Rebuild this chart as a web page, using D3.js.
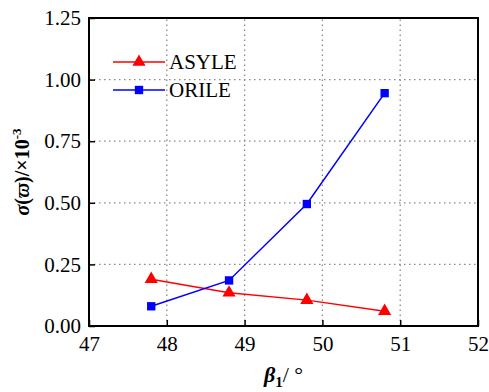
<!DOCTYPE html>
<html><head><meta charset="utf-8">
<script src="https://cdn.jsdelivr.net/npm/d3@7"></script>
<style>body{margin:0;background:#fff}svg{display:block}text{font-family:"Liberation Serif","Times New Roman","DejaVu Serif",serif}</style>
</head><body>
<script>
const xValues = [47.8, 48.8, 49.8, 50.8];
const asyle = [0.19, 0.135, 0.105, 0.06];
const orile = [0.08, 0.185, 0.495, 0.945];
const xTicks = [47, 48, 49, 50, 51, 52];
const yTicks = [0, 0.25, 0.5, 0.75, 1.0, 1.25];
const seriesNames = ["ASYLE", "ORILE"];
const seriesColors = ["#ff0000", "#0000ff"];

const W = 489, H = 392;
const m = {l: 89, t: 18, r: 11, b: 66};
const svg = d3.select("body").append("svg").attr("width", W).attr("height", H);
const x = d3.scaleLinear().domain([47, 52]).range([m.l, W - m.r]);
const y = d3.scaleLinear().domain([0, 1.25]).range([H - m.b, m.t]);

// grid
const g = svg.append("g");
g.selectAll(".vg").data(xTicks.slice(1, -1)).join("line")
  .attr("x1", d => x(d)).attr("x2", d => x(d)).attr("y1", y(0)).attr("y2", y(1.25))
  .attr("stroke", "#888").attr("stroke-width", 1.3).attr("stroke-dasharray", "1.5,3.5");
g.selectAll(".hg").data(yTicks.slice(1, -1)).join("line")
  .attr("y1", d => y(d)).attr("y2", d => y(d)).attr("x1", x(47)).attr("x2", x(52))
  .attr("stroke", "#888").attr("stroke-width", 1.3).attr("stroke-dasharray", "1.5,3.5");

// axes
const xAxis = svg.append("g").attr("transform", `translate(0,${y(0)})`)
  .call(d3.axisBottom(x).tickValues(xTicks).tickFormat(d3.format("d")).tickSizeInner(-6).tickSizeOuter(0).tickPadding(10));
const yAxis = svg.append("g").attr("transform", `translate(${x(47)},0)`)
  .call(d3.axisLeft(y).tickValues(yTicks).tickFormat(d3.format(".2f")).tickSizeInner(-6).tickSizeOuter(0).tickPadding(8));
[xAxis, yAxis].forEach(a => {
  a.attr("font-family", null).attr("font-size", null);
  a.selectAll("text").attr("font-size", 21).attr("fill", "#000");
  a.selectAll("line").attr("stroke", "#000").attr("stroke-width", 1.5);
  a.select(".domain").remove();
});
xAxis.selectAll("text").attr("dy", "0.71em");
// frame
svg.append("rect").attr("x", x(47)).attr("y", y(1.25)).attr("width", x(52) - x(47)).attr("height", y(0) - y(1.25))
  .attr("fill", "none").attr("stroke", "#000").attr("stroke-width", 2);

// series
const data = [asyle, orile];
const line = d3.line().x((d, i) => x(xValues[i])).y(d => y(d));
const tri = d3.symbol().type(d3.symbolTriangle).size(75);
const sq = d3.symbol().type(d3.symbolSquare).size(70);
data.forEach((vals, k) => {
  svg.append("path").datum(vals).attr("d", line).attr("fill", "none")
    .attr("stroke", seriesColors[k]).attr("stroke-width", 1.5);
  svg.selectAll(".m" + k).data(vals).join("path")
    .attr("transform", (d, i) => `translate(${x(xValues[i])},${y(d)})`)
    .attr("d", k === 0 ? tri() : sq()).attr("fill", seriesColors[k]);
});

// legend
const leg = svg.append("g");
seriesNames.forEach((n, k) => {
  const ly = 62 + k * 28;
  leg.append("line").attr("x1", 113).attr("x2", 165).attr("y1", ly).attr("y2", ly)
    .attr("stroke", seriesColors[k]).attr("stroke-width", 1.5);
  leg.append("path").attr("transform", `translate(139,${ly})`).attr("d", k === 0 ? tri() : sq()).attr("fill", seriesColors[k]);
  leg.append("text").attr("x", 169).attr("y", ly + 7).text(n)
    .attr("font-size", 21).attr("fill", "#000");
});

// axis labels
const xl = svg.append("text").attr("x", (x(47) + x(52)) / 2).attr("y", 382).attr("text-anchor", "middle")
  .attr("font-size", 22).attr("fill", "#000");
xl.append("tspan").attr("font-weight", "bold").attr("font-style", "italic").text("β");
xl.append("tspan").attr("font-weight", "bold").attr("font-size", 15).attr("dy", 5).text("1");
xl.append("tspan").attr("dy", -5).text("/ °");

const yl = svg.append("text").attr("transform", `translate(29,${(y(0) + y(1.25)) / 2}) rotate(-90)`)
  .attr("text-anchor", "middle").attr("font-size", 20).attr("fill", "#000");
yl.append("tspan").attr("font-weight", "bold").attr("font-style", "italic").text("σ");
yl.append("tspan").attr("font-weight", "bold").text("(");
yl.append("tspan").attr("font-weight", "bold").attr("font-style", "italic").text("ϖ");
yl.append("tspan").attr("font-weight", "bold").text(")/×10");
yl.append("tspan").attr("font-weight", "bold").attr("font-size", 13).attr("dy", -8).text("-3");
</script>
</body></html>
